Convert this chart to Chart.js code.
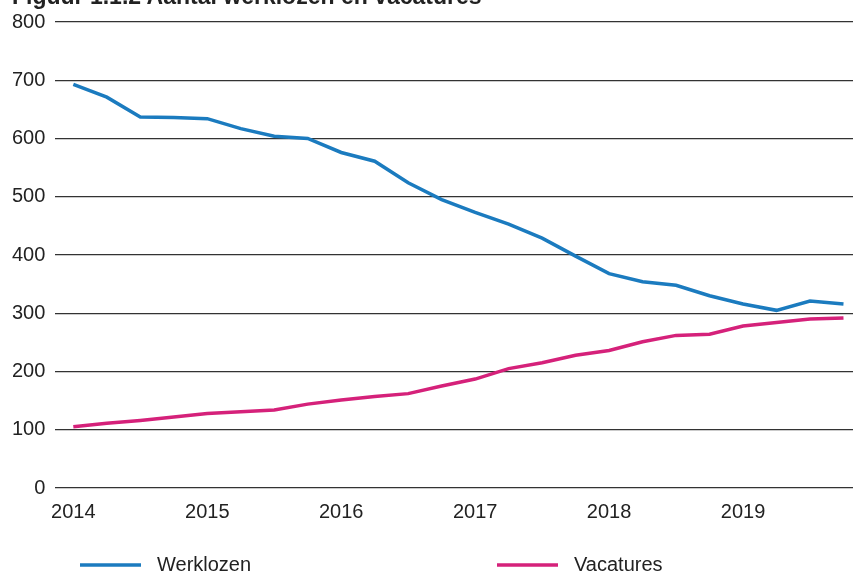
<!DOCTYPE html>
<html>
<head>
<meta charset="utf-8">
<script src="https://cdn.jsdelivr.net/npm/chart.js@4.4.0/dist/chart.umd.min.js"></script>
<style>
  html, body { margin: 0; padding: 0; background: #fff; overflow: hidden; }
  #wrap { position: relative; width: 853px; height: 573px; overflow: hidden; }
  #chart { position: absolute; left: 0; top: 0; }
  #title { position: absolute; left: 12px; top: -15px; font: bold 23px/23px "Liberation Sans", Arial, sans-serif; color: #222; white-space: nowrap; }
</style>
</head>
<body>
<div id="wrap">
  <canvas id="chart" width="853" height="573"></canvas>
  <div id="title">Figuur 1.1.2 Aantal werklozen en vacatures</div>
</div>
<script>
// kwartalen 2014 K1 t/m 2019 K4 (x 1000)
const periods = [
  '2014 K1', '2014 K2', '2014 K3', '2014 K4',
  '2015 K1', '2015 K2', '2015 K3', '2015 K4',
  '2016 K1', '2016 K2', '2016 K3', '2016 K4',
  '2017 K1', '2017 K2', '2017 K3', '2017 K4',
  '2018 K1', '2018 K2', '2018 K3', '2018 K4',
  '2019 K1', '2019 K2', '2019 K3', '2019 K4'
];
const werklozen = [693, 671, 637, 636, 634, 617, 604, 600, 576, 561, 524, 495,
                   473, 453, 429, 398, 368, 354, 348, 330, 316, 305, 321, 316];
const vacatures = [105, 111, 116, 122, 128, 131, 134, 144, 151, 157, 162, 175,
                   187, 205, 215, 228, 236, 251, 262, 264, 278, 284, 290, 292];
const yearTicks = [2014, 2015, 2016, 2017, 2018, 2019];
const yTicks = [0, 100, 200, 300, 400, 500, 600, 700, 800];

const seriesNames = ['Werklozen', 'Vacatures'];
const seriesColors = ['#1b7bbf', '#d5217a'];

function periodToX(p) {
  const year = parseInt(p, 10);
  const q = parseInt(p.slice(-1), 10);
  return year + (q - 1) / 4;
}

function toPoints(values) {
  return values.map((v, i) => ({ x: periodToX(periods[i]), y: v }));
}

const font = '"Liberation Sans", Arial, sans-serif';

// legenda onderaan, zelf getekend
const bottomLegend = {
  id: 'bottomLegend',
  afterDraw(chart) {
    const ctx = chart.ctx;
    const starts = [80, 497];
    const y = 565;
    ctx.save();
    chart.data.datasets.forEach((ds, i) => {
      const x0 = starts[i];
      ctx.strokeStyle = ds.borderColor;
      ctx.lineWidth = 3.5;
      ctx.beginPath();
      ctx.moveTo(x0, y);
      ctx.lineTo(x0 + 61, y);
      ctx.stroke();
      ctx.fillStyle = '#222';
      ctx.font = '20px ' + font;
      ctx.textBaseline = 'middle';
      ctx.fillText(ds.label, x0 + 77, y);
    });
    ctx.restore();
  }
};

new Chart(document.getElementById('chart'), {
  type: 'line',
  data: {
    datasets: [
      {
        label: seriesNames[0],
        data: toPoints(werklozen),
        borderColor: seriesColors[0],
        borderWidth: 3.5,
        pointRadius: 0,
        tension: 0,
        fill: false
      },
      {
        label: seriesNames[1],
        data: toPoints(vacatures),
        borderColor: seriesColors[1],
        borderWidth: 3.5,
        pointRadius: 0,
        tension: 0,
        fill: false
      }
    ]
  },
  options: {
    responsive: false,
    animation: false,
    layout: { padding: { left: 2, top: 21, right: 0, bottom: 37 } },
    plugins: {
      legend: { display: false },
      tooltip: { enabled: false }
    },
    scales: {
      x: {
        type: 'linear',
        min: 2013.866,
        max: 2019.821,
        afterBuildTicks: (s) => { s.ticks = yearTicks.map(v => ({ value: v })); },
        grid: { display: false, drawTicks: false },
        border: { display: false },
        ticks: {
          padding: 12,
          color: '#222',
          font: { family: font, size: 20 },
          callback: (v) => String(v)
        }
      },
      y: {
        min: 0,
        max: 800,
        afterBuildTicks: (s) => { s.ticks = yTicks.map(v => ({ value: v })); },
        grid: { color: '#333', lineWidth: 1.3, drawTicks: false },
        border: { display: false },
        ticks: {
          padding: 10,
          color: '#222',
          font: { family: font, size: 20 }
        }
      }
    }
  },
  plugins: [bottomLegend]
});
</script>
</body>
</html>
